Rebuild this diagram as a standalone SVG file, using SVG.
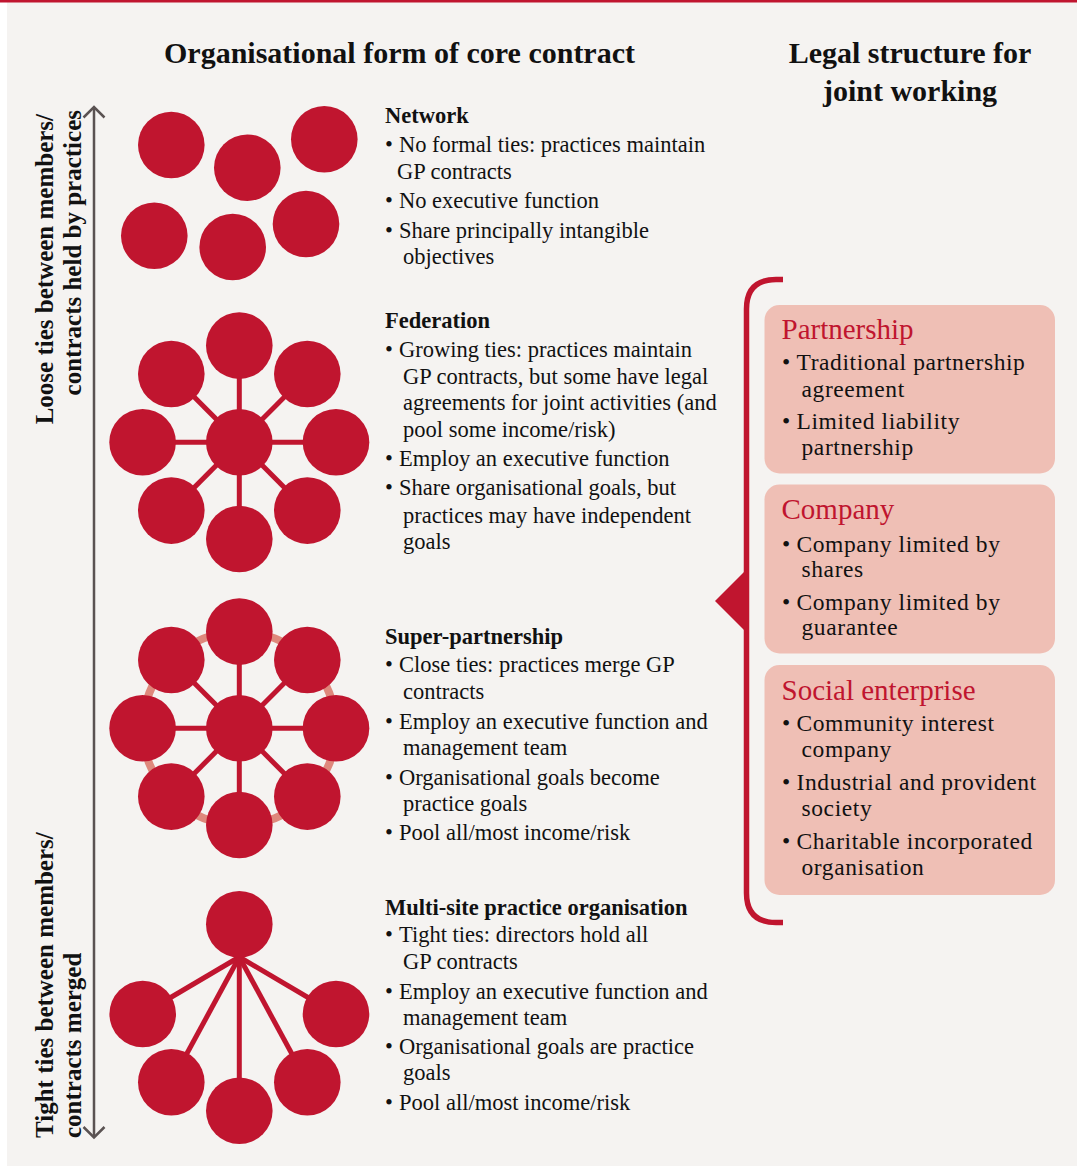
<svg xmlns="http://www.w3.org/2000/svg" width="1077" height="1171" viewBox="0 0 1077 1171">
<defs>
<style>
.bg{fill:#f5f3f1}
.dot{fill:#c0152f}
.spoke{stroke:#c0152f;stroke-width:5;fill:none}
.ring{stroke:#df887c;stroke-width:8;fill:none}
.axis{stroke:#5a5252;stroke-width:2.5;fill:none}
.hdr{font-family:"Liberation Serif","Times New Roman",serif;font-weight:bold;font-size:30px;fill:#111}
.side{font-family:"Liberation Serif","Times New Roman",serif;font-weight:bold;font-size:25px;fill:#111}
.ttl{font-family:"Liberation Serif","Times New Roman",serif;font-weight:bold;font-size:22.5px;fill:#111}
.txt{font-family:"Liberation Serif","Times New Roman",serif;font-size:22.5px;fill:#111}
.box{fill:#efbfb5}
.btl{font-family:"Liberation Serif","Times New Roman",serif;font-size:29px;fill:#c0152f}
.btx{font-family:"Liberation Serif","Times New Roman",serif;font-size:23.5px;letter-spacing:0.6px;fill:#111}
.brk{stroke:#c0152f;stroke-width:5.5;fill:none}
</style>
</defs>
<rect x="0" y="0" width="1077" height="1171" fill="#ffffff"/>
<rect class="bg" x="7" y="2" width="1070" height="1164"/>
<rect x="0" y="0" width="1077" height="2.5" fill="#c0152f"/>

<g id="headers">
<text class="hdr" x="399.5" y="63" text-anchor="middle">Organisational form of core contract</text>
<text class="hdr" x="910" y="63" text-anchor="middle">Legal structure for</text>
<text class="hdr" x="910" y="101" text-anchor="middle">joint working</text>
</g>

<g id="axis-labels">
<text class="side" transform="translate(53,114) rotate(-90)" text-anchor="end">Loose ties between members/</text>
<text class="side" transform="translate(81,110) rotate(-90)" text-anchor="end">contracts held by practices</text>
<text class="side" transform="translate(53,1138) rotate(-90)">Tight ties between members/</text>
<text class="side" transform="translate(81,1138) rotate(-90)">contracts merged</text>
</g>

<g id="connectors">
<line class="axis" x1="94" y1="108" x2="94" y2="1137"/>
<polyline class="axis" points="83.5,117.5 94,107 104.5,117.5"/>
<polyline class="axis" points="83.5,1127 94,1137.5 104.5,1127"/>
<g id="federation-spokes">
<line class="spoke" x1="239.3" y1="442.3" x2="239.3" y2="345.6"/>
<line class="spoke" x1="239.3" y1="442.3" x2="239.3" y2="539"/>
<line class="spoke" x1="239.3" y1="442.3" x2="142.6" y2="442.3"/>
<line class="spoke" x1="239.3" y1="442.3" x2="336" y2="442.3"/>
<line class="spoke" x1="239.3" y1="442.3" x2="171.3" y2="374"/>
<line class="spoke" x1="239.3" y1="442.3" x2="307.3" y2="374"/>
<line class="spoke" x1="239.3" y1="442.3" x2="171.3" y2="510.6"/>
<line class="spoke" x1="239.3" y1="442.3" x2="307.3" y2="510.6"/>
</g>
<g id="super-spokes">
<circle class="ring" cx="239.3" cy="728.3" r="96.7"/>
<line class="spoke" x1="239.3" y1="728.3" x2="239.3" y2="631.6"/>
<line class="spoke" x1="239.3" y1="728.3" x2="239.3" y2="825"/>
<line class="spoke" x1="239.3" y1="728.3" x2="142.6" y2="728.3"/>
<line class="spoke" x1="239.3" y1="728.3" x2="336" y2="728.3"/>
<line class="spoke" x1="239.3" y1="728.3" x2="171.3" y2="660"/>
<line class="spoke" x1="239.3" y1="728.3" x2="307.3" y2="660"/>
<line class="spoke" x1="239.3" y1="728.3" x2="171.3" y2="796.6"/>
<line class="spoke" x1="239.3" y1="728.3" x2="307.3" y2="796.6"/>
</g>
<g id="multisite-spokes">
<line class="spoke" x1="239.3" y1="957" x2="142.7" y2="1014"/>
<line class="spoke" x1="239.3" y1="957" x2="336" y2="1014"/>
<line class="spoke" x1="239.3" y1="957" x2="171.3" y2="1082.3"/>
<line class="spoke" x1="239.3" y1="957" x2="307.3" y2="1082.3"/>
<line class="spoke" x1="239.3" y1="957" x2="239.3" y2="1110.7"/>
</g>
<path id="bracket" class="brk" d="M783,279.5 H776 Q746.5,279.5 746.5,309 V893 Q746.5,922.5 776,922.5 H783"/>
<polygon id="bracket-pointer" class="dot" points="715,601 747,569 747,633"/>
</g>

<g id="network">
<circle class="dot" cx="171.3" cy="145" r="33.3"/>
<circle class="dot" cx="247.3" cy="167.7" r="33.3"/>
<circle class="dot" cx="324.3" cy="139.3" r="33.3"/>
<circle class="dot" cx="154.3" cy="235.7" r="33.3"/>
<circle class="dot" cx="232.7" cy="247" r="33.3"/>
<circle class="dot" cx="306" cy="224" r="33.3"/>
</g>

<g id="federation">
<circle class="dot" cx="239.3" cy="442.3" r="33.3"/>
<circle class="dot" cx="239.3" cy="345.6" r="33.3"/>
<circle class="dot" cx="239.3" cy="539" r="33.3"/>
<circle class="dot" cx="142.6" cy="442.3" r="33.3"/>
<circle class="dot" cx="336" cy="442.3" r="33.3"/>
<circle class="dot" cx="171.3" cy="374" r="33.3"/>
<circle class="dot" cx="307.3" cy="374" r="33.3"/>
<circle class="dot" cx="171.3" cy="510.6" r="33.3"/>
<circle class="dot" cx="307.3" cy="510.6" r="33.3"/>
</g>

<g id="super-partnership">
<circle class="dot" cx="239.3" cy="728.3" r="33.3"/>
<circle class="dot" cx="239.3" cy="631.6" r="33.3"/>
<circle class="dot" cx="239.3" cy="825" r="33.3"/>
<circle class="dot" cx="142.6" cy="728.3" r="33.3"/>
<circle class="dot" cx="336" cy="728.3" r="33.3"/>
<circle class="dot" cx="171.3" cy="660" r="33.3"/>
<circle class="dot" cx="307.3" cy="660" r="33.3"/>
<circle class="dot" cx="171.3" cy="796.6" r="33.3"/>
<circle class="dot" cx="307.3" cy="796.6" r="33.3"/>
</g>

<g id="multi-site">
<circle class="dot" cx="239.3" cy="924.3" r="33.3"/>
<circle class="dot" cx="142.7" cy="1014" r="33.3"/>
<circle class="dot" cx="336" cy="1014" r="33.3"/>
<circle class="dot" cx="171.3" cy="1082.3" r="33.3"/>
<circle class="dot" cx="307.3" cy="1082.3" r="33.3"/>
<circle class="dot" cx="239.3" cy="1110.7" r="33.3"/>
</g>

<g id="network-text">
<text class="ttl" x="385" y="123">Network</text>
<text class="txt" x="385" y="152">•</text><text class="txt" x="399" y="152">No formal ties: practices maintain</text>
<text class="txt" x="397" y="178.5">GP contracts</text>
<text class="txt" x="385" y="208">•</text><text class="txt" x="399" y="208">No executive function</text>
<text class="txt" x="385" y="238">•</text><text class="txt" x="399" y="238">Share principally intangible</text>
<text class="txt" x="403" y="263.5">objectives</text>
</g>

<g id="federation-text">
<text class="ttl" x="385" y="327.5">Federation</text>
<text class="txt" x="385" y="357">•</text><text class="txt" x="399" y="357">Growing ties: practices maintain</text>
<text class="txt" x="403" y="383.5">GP contracts, but some have legal</text>
<text class="txt" x="403" y="410">agreements for joint activities (and</text>
<text class="txt" x="403" y="436.5">pool some income/risk)</text>
<text class="txt" x="385" y="466">•</text><text class="txt" x="399" y="466">Employ an executive function</text>
<text class="txt" x="385" y="495">•</text><text class="txt" x="399" y="495">Share organisational goals, but</text>
<text class="txt" x="403" y="522.5">practices may have independent</text>
<text class="txt" x="403" y="548.5">goals</text>
</g>

<g id="super-partnership-text">
<text class="ttl" x="385" y="643.5">Super-partnership</text>
<text class="txt" x="385" y="672">•</text><text class="txt" x="399" y="672">Close ties: practices merge GP</text>
<text class="txt" x="403" y="698.5">contracts</text>
<text class="txt" x="385" y="728.5">•</text><text class="txt" x="399" y="728.5">Employ an executive function and</text>
<text class="txt" x="403" y="755">management team</text>
<text class="txt" x="385" y="784.5">•</text><text class="txt" x="399" y="784.5">Organisational goals become</text>
<text class="txt" x="403" y="811">practice goals</text>
<text class="txt" x="385" y="840">•</text><text class="txt" x="399" y="840">Pool all/most income/risk</text>
</g>

<g id="multi-site-text">
<text class="ttl" x="385" y="915">Multi-site practice organisation</text>
<text class="txt" x="385" y="942">•</text><text class="txt" x="399" y="942">Tight ties: directors hold all</text>
<text class="txt" x="403" y="968.5">GP contracts</text>
<text class="txt" x="385" y="998.5">•</text><text class="txt" x="399" y="998.5">Employ an executive function and</text>
<text class="txt" x="403" y="1025">management team</text>
<text class="txt" x="385" y="1054">•</text><text class="txt" x="399" y="1054">Organisational goals are practice</text>
<text class="txt" x="403" y="1080">goals</text>
<text class="txt" x="385" y="1110">•</text><text class="txt" x="399" y="1110">Pool all/most income/risk</text>
</g>

<g id="partnership">
<rect class="box" x="764.5" y="305" width="290.5" height="168.5" rx="15"/>
<text class="btl" x="781.5" y="339">Partnership</text>
<text class="btx" x="782" y="370">•</text><text class="btx" x="796.5" y="370">Traditional partnership</text>
<text class="btx" x="801.5" y="397">agreement</text>
<text class="btx" x="782" y="428.5">•</text><text class="btx" x="796.5" y="428.5">Limited liability</text>
<text class="btx" x="801.5" y="455">partnership</text>
</g>

<g id="company">
<rect class="box" x="764.5" y="484.5" width="290.5" height="169" rx="15"/>
<text class="btl" x="781.5" y="518.5">Company</text>
<text class="btx" x="782" y="551.5">•</text><text class="btx" x="796.5" y="551.5">Company limited by</text>
<text class="btx" x="801.5" y="577">shares</text>
<text class="btx" x="782" y="609.5">•</text><text class="btx" x="796.5" y="609.5">Company limited by</text>
<text class="btx" x="801.5" y="635">guarantee</text>
</g>

<g id="social-enterprise">
<rect class="box" x="764.5" y="665" width="290.5" height="230" rx="15"/>
<text class="btl" x="781.5" y="699.5">Social enterprise</text>
<text class="btx" x="782" y="731">•</text><text class="btx" x="796.5" y="731">Community interest</text>
<text class="btx" x="801.5" y="757">company</text>
<text class="btx" x="782" y="790">•</text><text class="btx" x="796.5" y="790">Industrial and provident</text>
<text class="btx" x="801.5" y="816">society</text>
<text class="btx" x="782" y="849">•</text><text class="btx" x="796.5" y="849">Charitable incorporated</text>
<text class="btx" x="801.5" y="875">organisation</text>
</g>
</svg>
